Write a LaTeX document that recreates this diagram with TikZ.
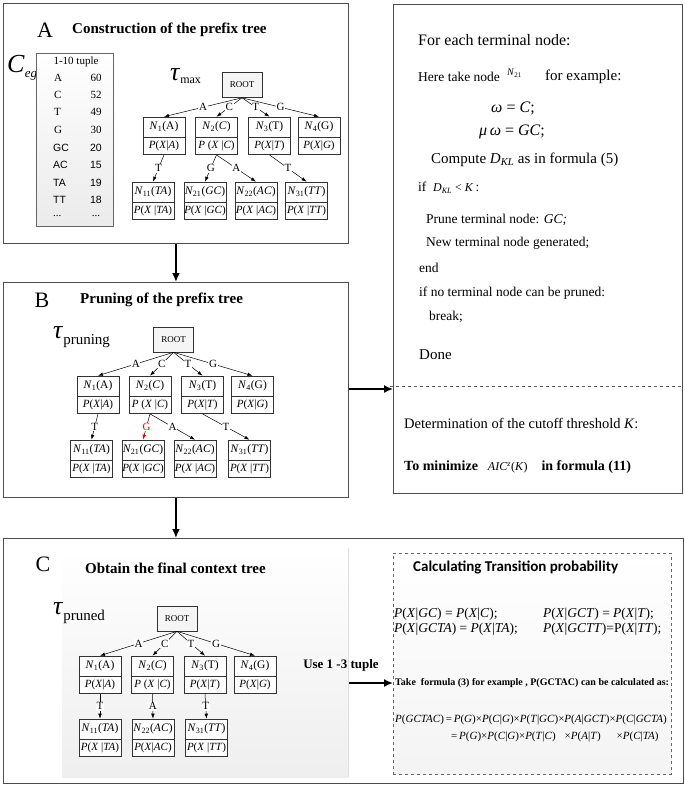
\documentclass[tikz,border=0pt]{standalone}
\usepackage{fontspec}
\setmainfont{Liberation Serif}
\newfontfamily\calfont{Carlito}
\newfontfamily\arialfont{Liberation Sans}
\usetikzlibrary{arrows.meta}
\newcommand{\fsz}[1]{\fontsize{#1}{#1}\selectfont}
\newcommand{\iv}[1]{\textit{#1}}
\newcommand{\tnode}[5]{%
  \node[nbox] (#1) at (#2,#3) {#4};
  \node[pbox] (#1p) at (#1.south) {#5};}
\tikzset{
  panel/.style={draw=black!70, line width=0.9pt, inner sep=0pt, anchor=north west},
  nbox/.style={draw=black!80, fill=white, line width=0.6pt, minimum width=42pt, minimum height=20pt, inner sep=0pt, font=\fsz{11.5}},
  pbox/.style={draw=black!80, fill=white, line width=0.6pt, minimum width=42pt, minimum height=17pt, inner sep=0pt, anchor=north, font=\fsz{11}},
  rootbox/.style={draw=black!80, fill=gray!8, line width=0.6pt, minimum width=40pt, minimum height=25pt, inner sep=0pt, font=\fsz{9}},
  tedge/.style={-{Latex[length=5pt,width=3.5pt]}, line width=0.5pt},
  elab/.style={fill=white, inner sep=0.6pt, font=\fsz{11}},
  bigarrow/.style={-{Latex[length=9pt,width=8pt]}, line width=1.6pt},
  txt/.style={anchor=west, inner sep=0pt},
}
\begin{document}
\begin{tikzpicture}[x=1pt,y=-1pt]
\useasboundingbox (0,0) rectangle (685,788);
\fill[white] (0,0) rectangle (685,788);

% ---------- panels ----------
\node[panel, minimum width=345pt, minimum height=240pt] (pA) at (3,3) {};
\node[panel, minimum width=289pt, minimum height=489pt] (pR) at (393,4) {};
\node[panel, minimum width=345pt, minimum height=215pt] (pB) at (3,282) {};
\node[panel, minimum width=680pt, minimum height=245pt] (pC) at (3,538) {};
\shade[top color=white, bottom color=gray!13] (62,548) rectangle (348,777);
\draw[gray!25] (348,548) -- (348,777);
\node[panel, draw=gray!80!black, line width=0.6pt, dashed, top color=white, bottom color=gray!9, minimum width=278pt, minimum height=221pt] (dB) at (393,553) {};

% ---------- panel arrows ----------
\draw[bigarrow] (pA.south) -- (pB.north);
\draw[bigarrow] (pB.south) -- (pB.south |- pC.north);
\coordinate (yB) at (0,389);
\draw[bigarrow] (pB.east |- yB) -- (pR.west |- yB);
\coordinate (cs) at (349,683);
\draw[bigarrow] (cs) -- (dB.west |- cs);
\coordinate (dl) at (390,386);
\draw[dashed, gray!70!black, line width=0.7pt] (dl) -- (pR.east |- dl);

% ---------- panel A ----------
\node[font=\fsz{22}] (lA) at (45,30) {A};
\node[txt, font=\bfseries\fsz{15}] (tA) at (72,30) {Construction of the prefix tree};
\node[txt] (ceg) at (7,68) {{\fsz{26}\iv{C}}\raisebox{-5pt}{\fsz{13}\iv{eg}}};
\node[draw=black!60, line width=0.6pt, top color=white, bottom color=gray!16, minimum width=77pt, minimum height=173pt, inner sep=0pt, anchor=north west] (tab) at (36,53) {};
\node[font=\fsz{11}] (th) at (76,62) {1-10 tuple};
\node[txt, font=\fsz{11}] (ra) at (54,78) {A};
\node[txt, font=\fsz{11}] (rc) at (54,95) {C};
\node[txt, font=\fsz{11}] (rt) at (54,112) {T};
\node[txt, font=\fsz{11}] (rg) at (54,130) {G};
\node[txt, font=\arialfont\fsz{10.5}] (rgc) at (53,148) {GC};
\node[txt, font=\arialfont\fsz{10.5}] (rac) at (53,165) {AC};
\node[txt, font=\arialfont\fsz{10.5}] (rta) at (53,183) {TA};
\node[txt, font=\arialfont\fsz{10.5}] (rtt) at (53,200) {TT};
\node[txt, font=\fsz{11}] (rd) at (53,216) {...};
\node[font=\fsz{11}] (va) at (96,78) {60};
\node[font=\fsz{11}] (vc) at (96,95) {52};
\node[font=\fsz{11}] (vt) at (96,112) {49};
\node[font=\fsz{11}] (vg) at (96,130) {30};
\node[font=\arialfont\fsz{10.5}] (vgc) at (96,148) {20};
\node[font=\arialfont\fsz{10.5}] (vac) at (96,165) {15};
\node[font=\arialfont\fsz{10.5}] (vta) at (96,183) {19};
\node[font=\arialfont\fsz{10.5}] (vtt) at (96,200) {18};
\node[font=\fsz{11}] (vd) at (96,216) {...};
\node[txt] (taumax) at (170,76) {{\fsz{26}\iv{τ}}\raisebox{-3pt}{\fsz{12}max}};

\node[rootbox] (aR) at (242,85) {ROOT};
\tnode{a1}{164}{127}{\iv{N}\textsubscript{1}(A)}{\iv{P}(\iv{X}|\iv{A})}
\tnode{a2}{216.5}{127}{\iv{N}\textsubscript{2}(\iv{C})}{\iv{P} (\iv{X} |\iv{C})}
\tnode{a3}{269.5}{127}{\iv{N}\textsubscript{3}(T)}{\iv{P}(\iv{X}|\iv{T})}
\tnode{a4}{319}{127}{\iv{N}\textsubscript{4}(G)}{\iv{P}(\iv{X}|\iv{G})}
\tnode{a11}{153}{192}{\iv{N}\textsubscript{11}(\iv{TA})}{\iv{P}(\iv{X} |\iv{TA})}
\tnode{a21}{205}{192}{\iv{N}\textsubscript{21}(\iv{GC})}{\iv{P}(\iv{X} |\iv{GC})}
\tnode{a22}{256}{192}{\iv{N}\textsubscript{22}(\iv{AC})}{\iv{P}(\iv{X} |\iv{AC})}
\tnode{a31}{306.5}{192}{\iv{N}\textsubscript{31}(\iv{TT})}{\iv{P}(\iv{X} |\iv{TT})}
\draw[tedge] (aR.south) -- node[elab]{A} (a1.north);
\draw[tedge] (aR.south) -- node[elab]{C} (a2.north);
\draw[tedge] (aR.south) -- node[elab]{T} (a3.north);
\draw[tedge] (aR.south) -- node[elab]{G} (a4.north);
\draw[tedge] (a1p.south) -- node[elab]{T} (a11.north);
\draw[tedge] (a2p.south) -- node[elab]{G} (a21.north);
\draw[tedge] (a2p.south) -- node[elab]{A} (a22.north);
\draw[tedge] (a3p.south) -- node[elab]{T} (a31.north);

% ---------- panel B ----------
\node[font=\fsz{22}] (lB) at (42,300) {B};
\node[txt, font=\bfseries\fsz{15}] (tB) at (80,300) {Pruning of the prefix tree};
\node[txt] (taupr) at (53,337) {{\fsz{26}\iv{τ}}\raisebox{-6pt}{\fsz{15}pruning}};
\node[rootbox] (bR) at (173.5,339.5) {ROOT};
\tnode{b1}{98}{386}{\iv{N}\textsubscript{1}(A)}{\iv{P}(\iv{X}|\iv{A})}
\tnode{b2}{150}{386}{\iv{N}\textsubscript{2}(\iv{C})}{\iv{P} (\iv{X} |\iv{C})}
\tnode{b3}{202.5}{386}{\iv{N}\textsubscript{3}(T)}{\iv{P}(\iv{X}|\iv{T})}
\tnode{b4}{252.5}{386}{\iv{N}\textsubscript{4}(G)}{\iv{P}(\iv{X}|\iv{G})}
\tnode{b11}{91.5}{450}{\iv{N}\textsubscript{11}(\iv{TA})}{\iv{P}(\iv{X} |\iv{TA})}
\tnode{b21}{143}{450}{\iv{N}\textsubscript{21}(\iv{GC})}{\iv{P}(\iv{X} |\iv{GC})}
\tnode{b22}{195}{450}{\iv{N}\textsubscript{22}(\iv{AC})}{\iv{P}(\iv{X} |\iv{AC})}
\tnode{b31}{249.5}{450}{\iv{N}\textsubscript{31}(\iv{TT})}{\iv{P}(\iv{X} |\iv{TT})}
\draw[tedge] (bR.south) -- node[elab]{A} (b1.north);
\draw[tedge] (bR.south) -- node[elab]{C} (b2.north);
\draw[tedge] (bR.south) -- node[elab]{T} (b3.north);
\draw[tedge] (bR.south) -- node[elab]{G} (b4.north);
\draw[tedge] (b1p.south) -- node[elab]{T} (b11.north);
\draw[-{Latex[length=5pt,width=3.5pt,color=red]}, line width=0.5pt] (b2p.south) -- node[elab, text=red]{G} (b21.north);
\draw[tedge] (b2p.south) -- node[elab]{A} (b22.north);
\draw[tedge] (b3p.south) -- node[elab]{T} (b31.north);

% ---------- panel C ----------
\node[font=\fsz{22}] (lC) at (43,564) {C};
\node[txt, font=\bfseries\fsz{15}] (tC) at (85,568) {Obtain the final context tree};
\node[txt] (taupd) at (53,613) {{\fsz{26}\iv{τ}}\raisebox{-6pt}{\fsz{15}pruned}};
\node[rootbox] (cR) at (177,618.5) {ROOT};
\tnode{c1}{100}{666}{\iv{N}\textsubscript{1}(A)}{\iv{P}(\iv{X}|\iv{A})}
\tnode{c2}{152.5}{666}{\iv{N}\textsubscript{2}(\iv{C})}{\iv{P} (\iv{X} |\iv{C})}
\tnode{c3}{205}{666}{\iv{N}\textsubscript{3}(T)}{\iv{P}(\iv{X}|\iv{T})}
\tnode{c4}{255}{666}{\iv{N}\textsubscript{4}(G)}{\iv{P}(\iv{X}|\iv{G})}
\tnode{c11}{100}{729}{\iv{N}\textsubscript{11}(\iv{TA})}{\iv{P}(\iv{X} |\iv{TA})}
\tnode{c22}{153}{729}{\iv{N}\textsubscript{22}(\iv{AC})}{\iv{P}(\iv{X}|\iv{AC})}
\tnode{c31}{206.5}{729}{\iv{N}\textsubscript{31}(\iv{TT})}{\iv{P}(\iv{X} |\iv{TT})}
\draw[tedge] (cR.south) -- node[elab]{A} (c1.north);
\draw[tedge] (cR.south) -- node[elab]{C} (c2.north);
\draw[tedge] (cR.south) -- node[elab]{T} (c3.north);
\draw[tedge] (cR.south) -- node[elab]{G} (c4.north);
\draw[tedge] (c1p.south) -- node[elab]{T} (c11.north);
\draw[tedge] (c2p.south) -- node[elab]{A} (c22.north);
\draw[tedge] (c3p.south) -- node[elab]{T} (c31.north);
\node[font=\bfseries\fsz{13}] (use) at (341,665) {Use 1 -3 tuple};

% ---------- right panel text ----------
\node[txt, font=\fsz{16}] (r1) at (418,40) {For each terminal node:};
\node[txt, font=\fsz{13.5}] (r2) at (418,77) {Here take node};
\node[txt, font=\fsz{10}] (r2n) at (507,73) {\iv{N}\textsubscript{21}};
\node[txt, font=\fsz{15}] (r2e) at (545,77) {for example:};
\node[font=\fsz{16}] (r3) at (513,108) {\iv{ω} = \iv{C};};
\node[font=\fsz{16}] (r4) at (512,132) {\iv{μ}\,\iv{ω} = \iv{GC};};
\node[txt, font=\fsz{15}] (r5) at (431,160) {Compute \iv{D}\textsubscript{\iv{KL}} as in formula (5)};
\node[txt, font=\fsz{13.5}] (r6) at (418,188) {if\ \ {\fsz{12}\iv{D}\textsubscript{\iv{KL}} < \iv{K}}\,:};
\node[txt, font=\fsz{13.5}] (r7) at (426,220) {Prune terminal node: \iv{GC;}};
\node[txt, font=\fsz{13.5}] (r8) at (426,243) {New terminal node generated;};
\node[txt, font=\fsz{13.5}] (r9) at (419,268) {end};
\node[txt, font=\fsz{13.5}] (r10) at (419,293) {if no terminal node can be pruned:};
\node[txt, font=\fsz{13.5}] (r11) at (429,317) {break;};
\node[txt, font=\fsz{15}] (r12) at (419,355) {Done};
\node[txt, font=\fsz{14.5}] (r13) at (404,423) {Determination of the cutoff threshold \iv{K}:};
\node[txt, font=\fsz{14}] (r14) at (404,467) {\textbf{To minimize}\hspace{10pt}{\fsz{12}\iv{AIC}\textsuperscript{\iv{z}}(\iv{K})}\hspace{14pt}\textbf{in formula (11)}};

% ---------- dashed box text ----------
\node[txt, font=\calfont\bfseries\fsz{15}] (ct) at (413,567) {Calculating Transition probability};
\node[txt, font=\fsz{13.5}] (f1a) at (394,614) {\iv{P}(\iv{X}|\iv{GC}) = \iv{P}(\iv{X}|\iv{C});};
\node[txt, font=\fsz{13.5}] (f1b) at (543,614) {\iv{P}(\iv{X}|\iv{GCT}) = \iv{P}(\iv{X}|\iv{T});};
\node[txt, font=\fsz{13.5}] (f2a) at (394,629) {\iv{P}(\iv{X}|\iv{GCTA}) = \iv{P}(\iv{X}|\iv{TA});};
\node[txt, font=\fsz{13.5}] (f2b) at (543,629) {\iv{P}(\iv{X}|\iv{GCTT})=P(\iv{X}|\iv{TT});};
\node[txt, font=\bfseries\fsz{10}] (tk) at (395,683) {Take\ \ formula (3) for example , P(GCTAC) can be calculated as:};
\node[txt, font=\fsz{11}] (g1) at (395,720) {\iv{P}(\iv{GCTAC})\,=\,\iv{P}(\iv{G})×\iv{P}(\iv{C}|\iv{G})×\iv{P}(\iv{T}|\iv{GC})×\iv{P}(\iv{A}|\iv{GCT})×\iv{P}(\iv{C}|\iv{GCTA})};
\node[txt, font=\fsz{11}] (g2) at (451,737) {=\,\iv{P}(\iv{G})×\iv{P}(\iv{C}|\iv{G})×\iv{P}(\iv{T}|\iv{C})\hspace{9pt}×\iv{P}(\iv{A}|\iv{T})\hspace{16pt}×\iv{P}(\iv{C}|\iv{TA})};
\end{tikzpicture}
\end{document}
